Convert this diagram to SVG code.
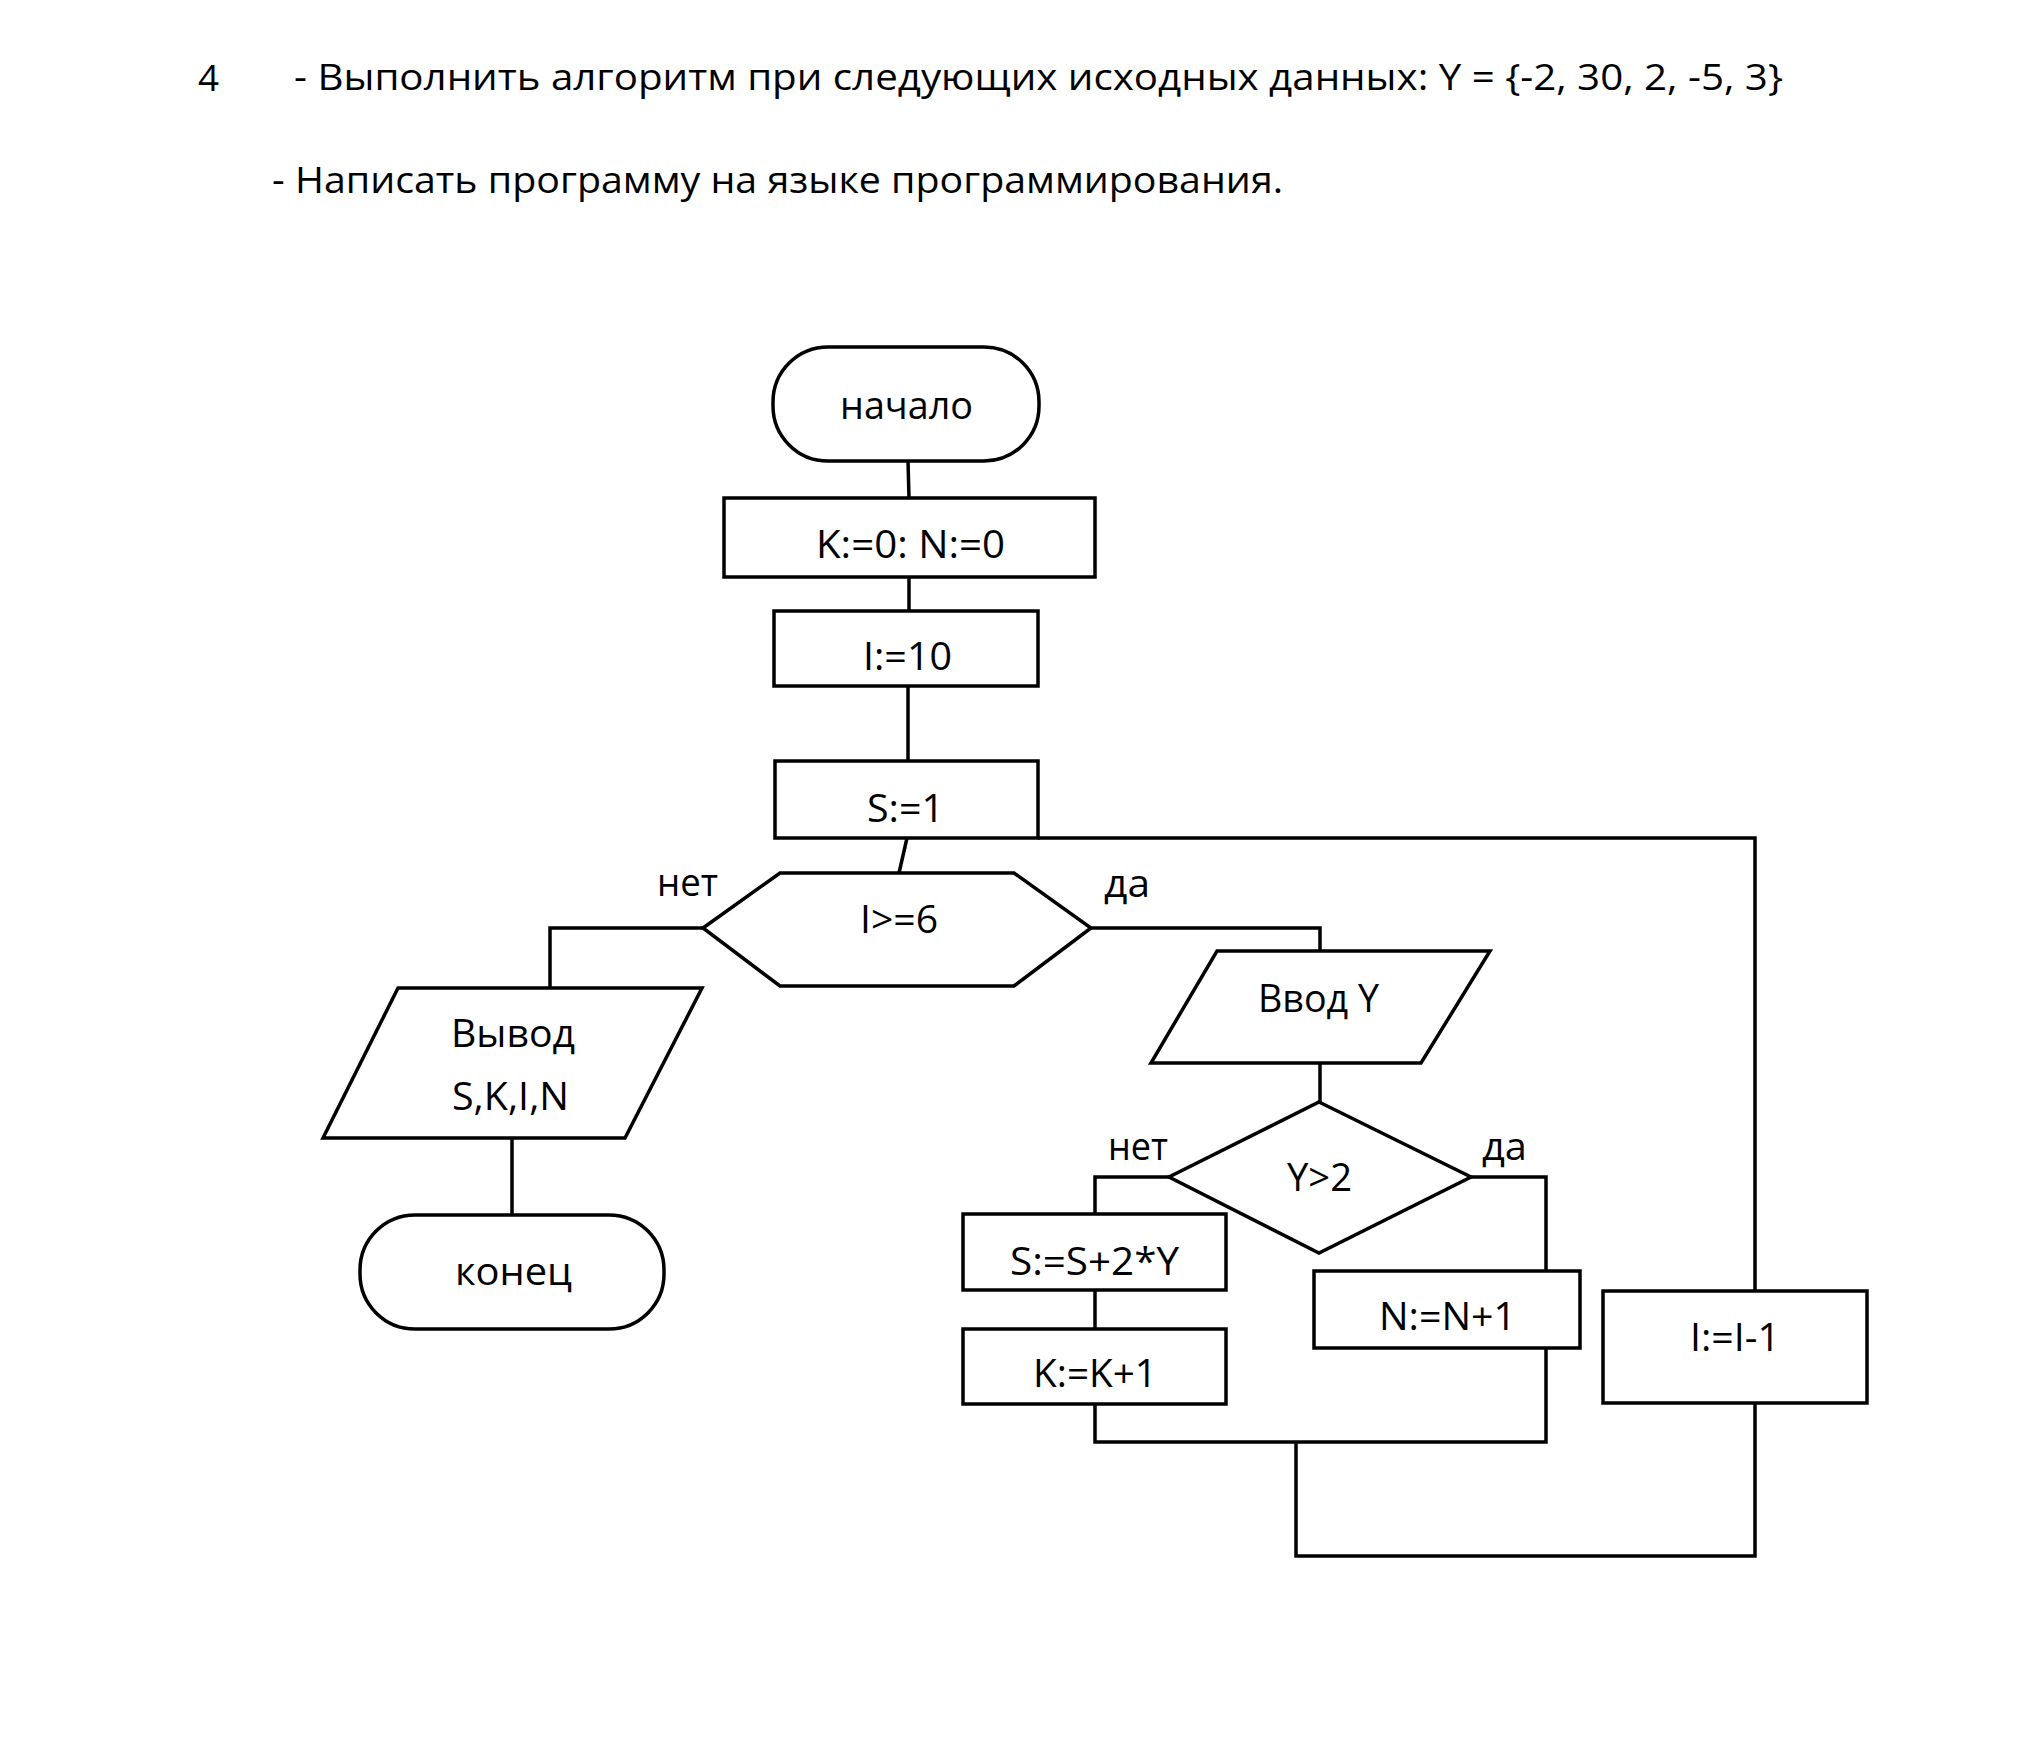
<svg xmlns="http://www.w3.org/2000/svg" width="2019" height="1738" viewBox="0 0 2019 1738">
<style>
.s{fill:none;stroke:#000;stroke-width:3.5;stroke-linejoin:miter}
.c{fill:none;stroke:#000;stroke-width:3.5}
text{font-family:"Open Sans","Liberation Sans",Arial,sans-serif;fill:#000}
.t{font-size:38px}
.h{font-size:36px}
</style>
<rect width="2019" height="1738" fill="#fff"/>
<g id="header">
<text class="h" x="198" y="91" textLength="21" lengthAdjust="spacingAndGlyphs">4</text>
<text class="h" x="294" y="90" textLength="1489" lengthAdjust="spacingAndGlyphs">- Выполнить алгоритм при следующих исходных данных: Y = {-2, 30, 2, -5, 3}</text>
<text class="h" x="272" y="193" textLength="1011" lengthAdjust="spacingAndGlyphs">- Написать программу на языке программирования.</text>
</g>
<g id="connectors">
<path class="c" d="M908,461 L909,498"/>
<path class="c" d="M909,577 L909,611"/>
<path class="c" d="M908,686 L908,761"/>
<path class="c" d="M907,838 L899,873"/>
<path class="c" d="M703,928 L550,928 L550,988"/>
<path class="c" d="M1091,928 L1320,928 L1320,951"/>
<path class="c" d="M512,1138 L512,1215"/>
<path class="c" d="M1320,1063 L1320,1102"/>
<path class="c" d="M1169,1177 L1095,1177 L1095,1214"/>
<path class="c" d="M1471,1177 L1546,1177 L1546,1271"/>
<path class="c" d="M1095,1290 L1095,1329"/>
<path class="c" d="M1095,1404 L1095,1442 L1546,1442 L1546,1348"/>
<path class="c" d="M1296,1442 L1296,1556 L1755,1556 L1755,1403"/>
<path class="c" d="M1038,838 L1755,838 L1755,1291"/>
</g>
<g id="labels">
<text class="t" x="657" y="896" textLength="61" lengthAdjust="spacingAndGlyphs">нет</text>
<text class="t" x="1104" y="897" textLength="46" lengthAdjust="spacingAndGlyphs">да</text>
<text class="t" x="1108" y="1160" textLength="60" lengthAdjust="spacingAndGlyphs">нет</text>
<text class="t" x="1482" y="1160" textLength="45" lengthAdjust="spacingAndGlyphs">да</text>
</g>
<g id="start">
<rect class="s" x="773" y="347" width="266" height="114" rx="55" ry="55"/>
<text class="t" x="840" y="419" textLength="133" lengthAdjust="spacingAndGlyphs">начало</text>
</g>
<g id="init-kn">
<rect class="s" x="724" y="498" width="371" height="79"/>
<text class="t" x="816" y="558" font-size="41" textLength="189" lengthAdjust="spacingAndGlyphs">K:=0: N:=0</text>
</g>
<g id="init-i">
<rect class="s" x="774" y="611" width="264" height="75"/>
<text class="t" x="863" y="670" textLength="89" lengthAdjust="spacingAndGlyphs">I:=10</text>
</g>
<g id="init-s">
<rect class="s" x="775" y="761" width="263" height="77"/>
<text class="t" x="867" y="822" textLength="77" lengthAdjust="spacingAndGlyphs">S:=1</text>
</g>
<g id="cond-i">
<polygon class="s" points="703,928 780,873 1014,873 1091,928 1014,986 780,986"/>
<text class="t" x="860" y="933" textLength="78" lengthAdjust="spacingAndGlyphs">I&gt;=6</text>
</g>
<g id="output">
<polygon class="s" points="398,988 702,988 625,1138 323,1138"/>
<text class="t" x="451" y="1047" textLength="124" lengthAdjust="spacingAndGlyphs">Вывод</text>
<text class="t" x="452" y="1110" textLength="117" lengthAdjust="spacingAndGlyphs">S,K,I,N</text>
</g>
<g id="end">
<rect class="s" x="360" y="1215" width="304" height="114" rx="55" ry="55"/>
<text class="t" x="455" y="1285" textLength="117" lengthAdjust="spacingAndGlyphs">конец</text>
</g>
<g id="input">
<polygon class="s" points="1217,951 1490,951 1421,1063 1151,1063"/>
<text class="t" x="1258" y="1012" textLength="121" lengthAdjust="spacingAndGlyphs">Ввод Y</text>
</g>
<g id="cond-y">
<polygon class="s" points="1319,1102 1471,1177 1319,1253 1169,1177"/>
<text class="t" x="1287" y="1191" textLength="65" lengthAdjust="spacingAndGlyphs">Y&gt;2</text>
</g>
<g id="calc-s">
<rect class="s" x="963" y="1214" width="263" height="76"/>
<text class="t" x="1010" y="1275" textLength="169" lengthAdjust="spacingAndGlyphs">S:=S+2*Y</text>
</g>
<g id="calc-k">
<rect class="s" x="963" y="1329" width="263" height="75"/>
<text class="t" x="1033" y="1387" textLength="124" lengthAdjust="spacingAndGlyphs">K:=K+1</text>
</g>
<g id="calc-n">
<rect class="s" x="1314" y="1271" width="266" height="77"/>
<text class="t" x="1379" y="1330" textLength="137" lengthAdjust="spacingAndGlyphs">N:=N+1</text>
</g>
<g id="dec-i">
<rect class="s" x="1603" y="1291" width="264" height="112"/>
<text class="t" x="1690" y="1351" textLength="90" lengthAdjust="spacingAndGlyphs">I:=I-1</text>
</g>
</svg>
